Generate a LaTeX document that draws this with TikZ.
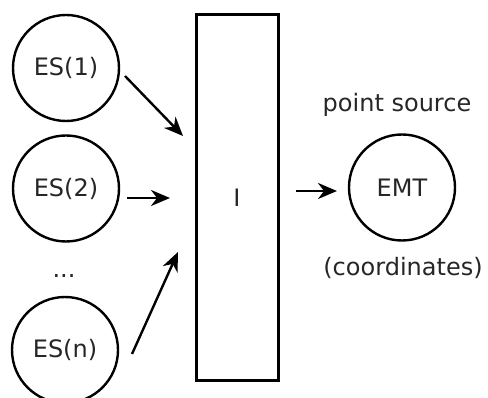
\documentclass[tikz,border=0pt]{standalone}
\usepackage{fontspec}
\setmainfont{DejaVu Sans}
\usetikzlibrary{arrows.meta}
\begin{document}
\begin{tikzpicture}[x=1pt,y=-1pt,
  lbl/.style={font=\fontsize{24}{28}\selectfont, text=black!85},
  src/.style={circle, draw, line width=2.4pt, minimum size=106pt, inner sep=0pt, lbl},
  box/.style={draw, line width=3pt, minimum width=82pt, minimum height=366pt, inner sep=0pt, lbl},
  arr/.style={line width=2.4pt, -{Stealth[length=19pt,width=16pt,inset=6pt]}}]
\useasboundingbox (0,0) rectangle (488,398);
\node[src] (es1) at (66,68) {ES(1)};
\node[src] (es2) at (66,188.5) {ES(2)};
\node[lbl] (dots) at (64,276) {...};
\node[src] (esn) at (65,350) {ES(n)};
\node[box] (I) at (237,198) {I};
\node[src] (emt) at (402,187.5) {EMT};
\node[lbl] (ps) at (397,105) {point source};
\node[lbl] (coord) at (403,268) {(coordinates)};
\coordinate (a1s) at (125,76);
\coordinate (a1e) at (183,136);
\coordinate (a2s) at (127,198);
\coordinate (a2e) at (170,198);
\coordinate (a3s) at (132,354);
\coordinate (a3e) at (178,252);
\coordinate (a4s) at (296,191);
\coordinate (a4e) at (337,191);
\draw[arr] (a1s) -- (a1e);
\draw[arr] (a2s) -- (a2e);
\draw[arr] (a3s) -- (a3e);
\draw[arr] (a4s) -- (a4e);
\end{tikzpicture}
\end{document}
